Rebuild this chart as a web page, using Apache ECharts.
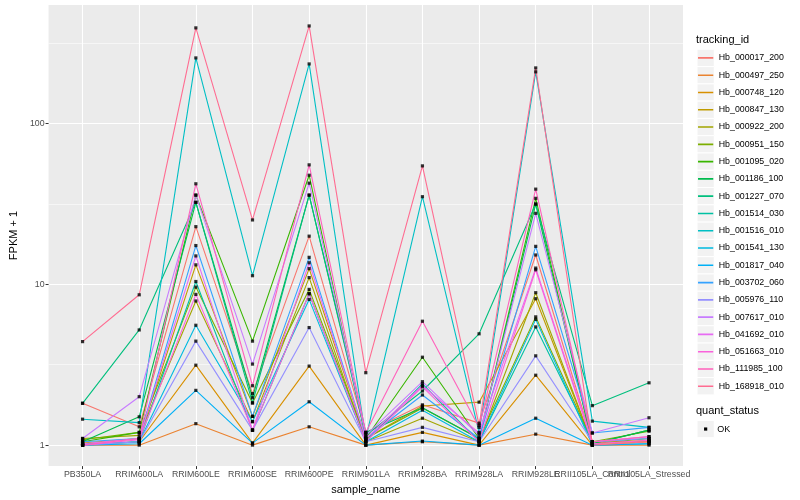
<!DOCTYPE html>
<html><head><meta charset="utf-8">
<script src="https://cdn.jsdelivr.net/npm/echarts@6/dist/echarts.min.js"></script>
<style>html,body{margin:0;padding:0;background:#fff}#c{width:800px;height:500px}</style>
</head><body><div id="c"></div><script>
const categories = ['PB350LA','RRIM600LA','RRIM600LE','RRIM600SE','RRIM600PE','RRIM901LA','RRIM928BA','RRIM928LA','RRIM928LE','RRII105LA_Control','RRII105LA_Stressed'];
const yTickLabels = [1, 10, 100];
const yMinorLog = [0.5, 1.5, 2.5];

const Hb_000017_200 = [1.82, 1.30, 22.8, 2.09, 19.9, 1.20, 1.78, 1.37, 15.2, 1.05, 1.05];
const Hb_000497_250 = [1.00, 1.00, 1.36, 1.00, 1.30, 1.00, 1.05, 1.00, 1.17, 1.00, 1.00];
const Hb_000748_120 = [1.00, 1.05, 3.14, 1.03, 3.10, 1.00, 1.20, 1.00, 2.72, 1.00, 1.05];
const Hb_000847_130 = [1.03, 1.10, 13.2, 1.51, 12.5, 1.10, 1.75, 1.85, 8.13, 1.02, 1.07];
const Hb_000922_200 = [1.10, 1.15, 7.87, 1.40, 11.0, 1.05, 1.47, 1.05, 8.86, 1.02, 1.10];
const Hb_000951_150 = [1.08, 1.20, 9.60, 1.83, 9.29, 1.10, 1.70, 1.10, 6.27, 1.05, 1.22];
const Hb_001095_020 = [1.05, 1.20, 35.8, 4.43, 47.6, 1.10, 3.52, 1.10, 34.2, 1.02, 1.24];
const Hb_001186_100 = [1.05, 1.50, 32.3, 1.97, 35.8, 1.20, 1.71, 1.10, 31.5, 1.02, 1.24];
const Hb_001227_070 = [1.82, 5.20, 32.3, 1.83, 35.8, 1.15, 2.17, 4.92, 31.5, 1.76, 2.44];
const Hb_001514_030 = [1.02, 1.05, 10.4, 1.24, 8.73, 1.05, 2.40, 1.05, 5.43, 1.05, 1.10];
const Hb_001516_010 = [1.45, 1.38, 255, 11.3, 234, 1.10, 35.0, 1.20, 209, 1.41, 1.29];
const Hb_001541_130 = [1.00, 1.05, 5.56, 1.40, 8.05, 1.05, 1.65, 1.05, 6.05, 1.00, 1.02];
const Hb_001817_040 = [1.00, 1.02, 2.19, 1.03, 1.86, 1.00, 1.06, 1.00, 1.47, 1.00, 1.02];
const Hb_003702_060 = [1.05, 1.10, 17.4, 1.51, 14.7, 1.10, 2.05, 1.10, 17.2, 1.19, 1.29];
const Hb_005976_110 = [1.00, 1.05, 4.43, 1.24, 5.38, 1.05, 1.29, 1.05, 3.59, 1.05, 1.10];
const Hb_007617_010 = [1.10, 2.00, 35.8, 3.19, 42.5, 1.15, 2.48, 1.15, 27.6, 1.19, 1.48];
const Hb_041692_010 = [1.02, 1.10, 15.0, 1.24, 13.6, 1.10, 2.34, 1.19, 12.6, 1.05, 1.13];
const Hb_051663_010 = [1.00, 1.08, 8.65, 1.24, 8.73, 1.05, 2.30, 1.05, 12.3, 1.02, 1.07];
const Hb_111985_100 = [1.00, 1.10, 42.1, 2.34, 55.2, 1.20, 5.89, 1.29, 39.0, 1.05, 1.13];
const Hb_168918_010 = [4.40, 8.60, 392, 25.1, 403, 2.82, 54.4, 1.33, 221, 1.00, 1.05];

const trackingIds = ['Hb_000017_200','Hb_000497_250','Hb_000748_120','Hb_000847_130','Hb_000922_200','Hb_000951_150','Hb_001095_020','Hb_001186_100','Hb_001227_070','Hb_001514_030','Hb_001516_010','Hb_001541_130','Hb_001817_040','Hb_003702_060','Hb_005976_110','Hb_007617_010','Hb_041692_010','Hb_051663_010','Hb_111985_100','Hb_168918_010'];
const seriesValues = [Hb_000017_200,Hb_000497_250,Hb_000748_120,Hb_000847_130,Hb_000922_200,Hb_000951_150,Hb_001095_020,Hb_001186_100,Hb_001227_070,Hb_001514_030,Hb_001516_010,Hb_001541_130,Hb_001817_040,Hb_003702_060,Hb_005976_110,Hb_007617_010,Hb_041692_010,Hb_051663_010,Hb_111985_100,Hb_168918_010];
const colors = ['#F8766D','#EA8331','#D89000','#C09B00','#A3A500','#7CAE00','#39B600','#00BB4E','#00BF7D','#00C1A3','#00BFC4','#00BAE0','#00B0F6','#35A2FF','#9590FF','#C77CFF','#E76BF3','#FA62DB','#FF62BC','#FF6C91'];
const quantStatus = ['OK'];

const FONT = '"Liberation Sans", Arial, Helvetica, sans-serif';
let lo = Infinity, hi = -Infinity;
seriesValues.forEach(a => a.forEach(v => { const l = Math.log10(v); if (l < lo) lo = l; if (l > hi) hi = l; }));
const pad = (hi - lo) * 0.05;
const yMin = lo - pad, yMax = hi + pad;
const catIdx = categories.map((c, i) => i);
const evenIdx = catIdx.filter(i => i % 2 === 0);
const oddIdx = catIdx.filter(i => i % 2 === 1);

const lineSeries = trackingIds.map((id, i) => ({
  name: id, type: 'line', symbol: 'none', z: 2,
  data: seriesValues[i].map((v, j) => [j, Math.log10(v)]),
  lineStyle: { width: 1.1, color: colors[i] },
  itemStyle: { color: colors[i] },
  emphasis: { disabled: true }
}));
const pts = [];
seriesValues.forEach(a => a.forEach((v, j) => pts.push([j, Math.log10(v)])));
const pointSeries = {
  name: 'quant_status', type: 'scatter', symbol: 'rect', symbolSize: 3.2, z: 3, silent: true,
  data: pts, itemStyle: { color: '#000' }
};

const LG_LEFT = 697, LG_TOP = 49.3, KEY = 17.28;
const graphics = [];
graphics.push({ type: 'text', left: 696, top: 34, style: { text: 'tracking_id', font: '11px ' + FONT, fill: '#000' } });
trackingIds.forEach((id, i) => {
  graphics.push({ type: 'rect', shape: { x: LG_LEFT, y: LG_TOP + i * KEY, width: KEY, height: KEY }, style: { fill: '#F2F2F2', stroke: '#fff', lineWidth: 1 }, z: -1 });
});
const qTop = LG_TOP + trackingIds.length * KEY + 25.5;
graphics.push({ type: 'text', left: 696, top: qTop - 14.5, style: { text: 'quant_status', font: '11px ' + FONT, fill: '#000' } });
quantStatus.forEach((q, i) => {
  const y = qTop + i * KEY;
  graphics.push({ type: 'rect', shape: { x: LG_LEFT, y: y, width: KEY, height: KEY }, style: { fill: '#F2F2F2', stroke: '#fff', lineWidth: 1 } });
  graphics.push({ type: 'rect', shape: { x: LG_LEFT + KEY / 2 - 1.6, y: y + KEY / 2 - 1.6, width: 3.2, height: 3.2 }, style: { fill: '#000' } });
  graphics.push({ type: 'text', style: { text: q, x: LG_LEFT + KEY + 3, y: y + KEY / 2, verticalAlign: 'middle', font: '9px ' + FONT, fill: '#000' } });
});

function xLabelAxis(vals, withName) {
  return {
    type: 'value', min: -0.6, max: 10.6, position: 'bottom',
    name: withName ? 'sample_name' : '', nameLocation: 'middle', nameGap: 14,
    nameTextStyle: { fontSize: 11, color: '#000', fontFamily: FONT },
    axisLine: { show: false, onZero: false },
    axisTick: { show: true, length: 3, customValues: vals, lineStyle: { color: '#333', width: 1 } },
    axisLabel: { customValues: vals, margin: 4, fontSize: 8.8, color: '#4D4D4D', fontFamily: FONT, hideOverlap: false,
      showMinLabel: true, showMaxLabel: true,
      formatter: v => categories[Math.round(v)] },
    splitLine: { show: true, lineStyle: { color: '#fff', width: 1.1 } }
  };
}

const chart = echarts.init(document.getElementById('c'), null, { renderer: 'canvas' });
chart.setOption({
  animation: false,
  backgroundColor: '#fff',
  textStyle: { fontFamily: FONT },
  grid: { left: 40, right: 117, top: 5, bottom: 32, show: true, backgroundColor: '#EBEBEB', borderWidth: 0 },
  xAxis: [xLabelAxis(evenIdx, true), xLabelAxis(oddIdx, false)],
  yAxis: [{
    type: 'value', min: yMin, max: yMax,
    name: 'FPKM + 1', nameLocation: 'middle', nameGap: 22, nameRotate: 90,
    nameTextStyle: { fontSize: 11, color: '#000', fontFamily: FONT },
    axisLine: { show: false, onZero: false },
    axisTick: { show: true, length: 3, customValues: yTickLabels.map(v => Math.log10(v)), lineStyle: { color: '#333', width: 1 } },
    axisLabel: { customValues: yTickLabels.map(v => Math.log10(v)), margin: 4, fontSize: 8.8, color: '#4D4D4D', fontFamily: FONT,
      showMinLabel: true, showMaxLabel: true,
      formatter: v => String(Math.round(Math.pow(10, v))) },
    splitLine: { show: true, lineStyle: { color: '#fff', width: 1.1 } }
  }, {
    type: 'value', min: yMin, max: yMax, position: 'left',
    axisLine: { show: false, onZero: false },
    axisTick: { show: false, customValues: yMinorLog },
    axisLabel: { show: false, customValues: yMinorLog },
    splitLine: { show: true, lineStyle: { color: '#fff', width: 0.55 } }
  }],
  legend: {
    data: trackingIds, orient: 'vertical', left: LG_LEFT, top: LG_TOP, padding: 0,
    itemWidth: KEY, itemHeight: KEY, itemGap: 0, selectedMode: false,
    icon: 'path://M0,0h0.01v0.01h-0.01z M1,7.7h15v1.6h-15z M0,17h0.01v0.01h-0.01z',
    textStyle: { fontSize: 8.8, color: '#000', fontFamily: FONT }
  },
  graphic: graphics,
  series: lineSeries.concat([pointSeries])
});
</script></body></html>
